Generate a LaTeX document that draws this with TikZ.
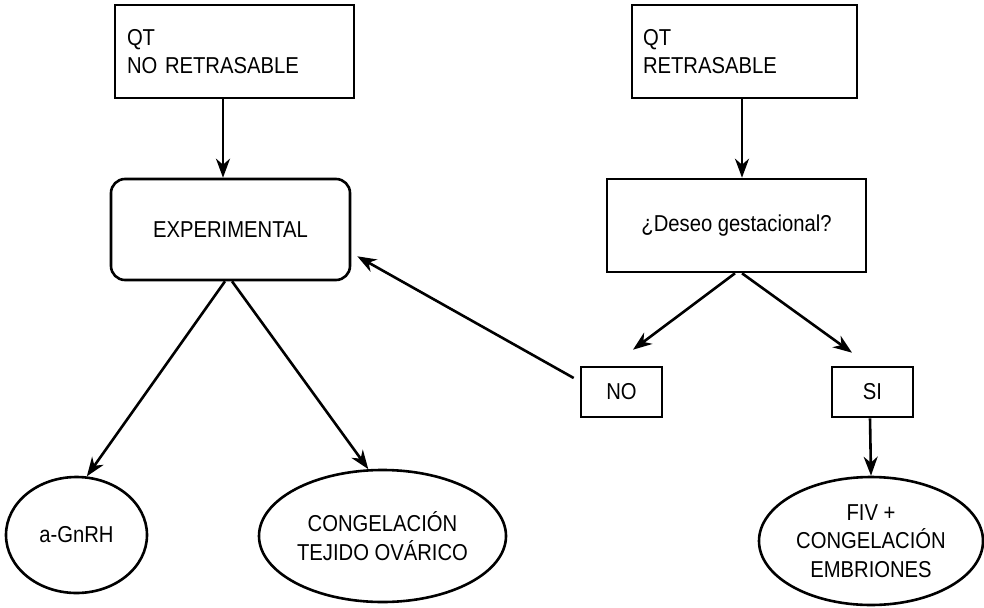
\documentclass[tikz,border=0pt]{standalone}
\usepackage{fontspec}
\setmainfont{Liberation Sans}[FakeStretch=0.88]
\usetikzlibrary{shapes.geometric,arrows.meta}
\begin{document}
\begin{tikzpicture}[x=1pt,y=-1pt,
  every node/.style={font=\fontsize{23}{28.5}\selectfont, line width=2.6pt},
  sqbox/.style={draw, rectangle, inner sep=0pt, minimum height=93pt},
  txtbox/.style={draw, rectangle, align=left, inner ysep=0pt, minimum height=93pt},
  rbox/.style={draw, rectangle, rounded corners=14pt, inner sep=0pt, minimum width=239pt, minimum height=101pt},
  smallbox/.style={draw, rectangle, inner sep=0pt, minimum width=81pt, minimum height=50pt},
  oval/.style={draw, ellipse, inner sep=0pt, align=center},
  conn/.style={line width=2.6pt, -{Stealth[length=19pt, width=14pt, inset=6pt]}}
]
\useasboundingbox (0,0) rectangle (984,607);
\node[txtbox, text width=215pt, inner xsep=12pt] (qt1) at (234.5,51.5) {QT\\NO RETRASABLE};
\node[txtbox, text width=203pt, inner xsep=11pt] (qt2) at (744.5,51.5) {QT\\RETRASABLE};
\node[rbox] (exp) at (230.5,229.5) {EXPERIMENTAL};
\node[sqbox, minimum width=259pt] (des) at (736.5,225.5) {¿Deseo gestacional?};
\node[smallbox] (no) at (621.5,392) {NO};
\node[smallbox] (si) at (872.5,392) {SI};
\node[oval, minimum width=141pt, minimum height=116pt] (agn) at (76.5,535) {a-GnRH};
\node[oval, minimum width=247pt, minimum height=132pt] (cto) at (382.5,536) {CONGELACIÓN\\TEJIDO OVÁRICO};
\node[oval, minimum width=224pt, minimum height=128pt] (fiv) at (871,541) {FIV +\\CONGELACIÓN\\EMBRIONES};
\coordinate (noTip) at ([shift={(11.5,-16)}]no.north);
\coordinate (siTip) at ([shift={(-20.5,-13)}]si.north);
\coordinate (noStart) at ([shift={(-6,-14)}]no.west);
\coordinate (expTip) at ([shift={(6,-25)}]exp.south east);
\draw[conn] ([xshift=-11.5pt]qt1.south) -- ([xshift=-7.5pt]exp.north);
\draw[conn] ([xshift=-2.5pt]qt2.south) -- ([xshift=5.5pt]des.north);
\draw[conn] ([xshift=-5.5pt]exp.south) -- (agn.80);
\draw[conn] ([xshift=1.5pt]exp.south) -- (cto.102);
\draw[conn] ([xshift=-1.5pt]des.south) -- (noTip);
\draw[conn] ([xshift=5.5pt]des.south) -- (siTip);
\draw[conn] (noStart) -- (expTip);
\draw[conn] ([xshift=-2.5pt]si.south) -- (fiv.north);
\end{tikzpicture}
\end{document}
